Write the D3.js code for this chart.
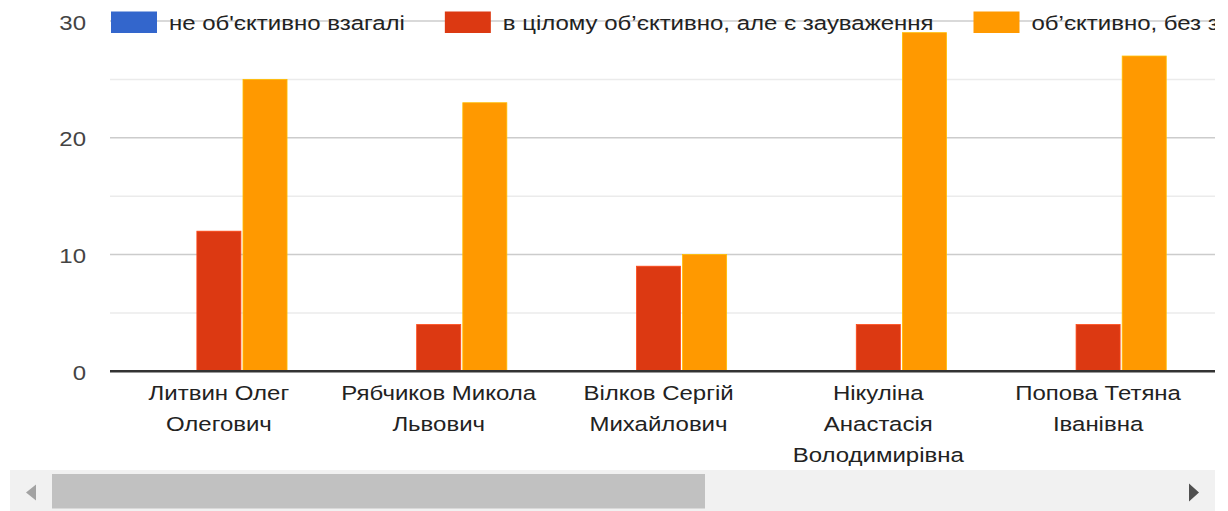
<!DOCTYPE html>
<html>
<head>
<meta charset="utf-8">
<script src="https://cdn.jsdelivr.net/npm/d3@7"></script>
<style>
  body { margin: 0; background: #fff; }
  svg { display: block; font-family: "Liberation Sans", Arial, sans-serif; }
</style>
</head>
<body>
<svg id="chart" width="1228" height="511"></svg>
<script>
// teachers (x categories), each label split into lines
var teachers = ['Литвин Олег Олегович', 'Рябчиков Микола Львович', 'Вілков Сергій Михайлович',
                'Нікуліна Анастасія Володимирівна', 'Попова Тетяна Іванівна'];
var teacherLines = [['Литвин Олег', 'Олегович'], ['Рябчиков Микола', 'Львович'], ['Вілков Сергій', 'Михайлович'],
                    ['Нікуліна', 'Анастасія', 'Володимирівна'], ['Попова Тетяна', 'Іванівна']];

// series
var seriesNames = ['не об\'єктивно взагалі', 'в цілому об’єктивно, але є зауваження', 'об’єктивно, без зауважень'];
var seriesColors = ['#3366cc', '#dc3912', '#ff9900'];
var notObjective = [0, 0, 0, 0, 0];
var mostlyObjective = [12, 4, 9, 4, 4];
var objective = [25, 23, 10, 29, 27];
var seriesValues = [notObjective, mostlyObjective, objective];

var yTicks = [0, 10, 20, 30];
var yMinor = [5, 15, 25];

var svg = d3.select('#chart');
var viewRight = 1215;   // visible part of the scrolled chart
var fs = 20.5, sx = 1.17;  // text is a bit wider in the original

svg.append('defs').append('clipPath').attr('id', 'view')
    .append('rect').attr('x', 0).attr('y', 0).attr('width', viewRight).attr('height', 470);

var g = svg.append('g').attr('clip-path', 'url(#view)');

var y = d3.scaleLinear().domain([0, 30]).range([371.3, 21]);
var x0 = d3.scaleBand().domain(teachers).range([109, 1208]).paddingInner(0.38).paddingOuter(0.19);
var x1 = d3.scaleBand().domain(d3.range(3)).range([0, x0.bandwidth()]).paddingInner(0.045);

function place(px, py) { return 'translate(' + px + ',' + py + ') scale(' + sx + ',1)'; }

// gridlines
g.selectAll('line.minor').data(yMinor).enter().append('line')
    .attr('x1', 110).attr('x2', viewRight)
    .attr('y1', function (d) { return y(d); }).attr('y2', function (d) { return y(d); })
    .attr('stroke', '#ebebeb').attr('stroke-width', 1.5);
g.selectAll('line.major').data(yTicks.slice(1)).enter().append('line')
    .attr('x1', 110).attr('x2', viewRight)
    .attr('y1', function (d) { return y(d); }).attr('y2', function (d) { return y(d); })
    .attr('stroke', '#cccccc').attr('stroke-width', 1.5);

// y tick labels
g.selectAll('text.ytick').data(yTicks).enter().append('text')
    .attr('transform', function (d) { return place(86, y(d) + 8.5); })
    .attr('text-anchor', 'end').attr('font-size', fs).attr('fill', '#444')
    .text(function (d) { return d; });

// bars
var groups = g.selectAll('g.grp').data(teachers).enter().append('g')
    .attr('transform', function (d) { return 'translate(' + x0(d) + ',0)'; });
groups.selectAll('rect').data(function (d, i) {
        return seriesValues.map(function (vals, s) { return { s: s, v: vals[i] }; });
    }).enter().append('rect')
    .filter(function (d) { return d.v > 0; })
    .attr('x', function (d) { return x1(d.s); })
    .attr('width', x1.bandwidth())
    .attr('y', function (d) { return y(d.v); })
    .attr('height', function (d) { return y(0) - y(d.v); })
    .attr('fill', function (d) { return seriesColors[d.s]; })
    .attr('stroke', function (d) { return d3.color(seriesColors[d.s]).brighter(0.6); })
    .attr('stroke-width', 0.8);

// baseline
g.append('line').attr('x1', 110).attr('x2', viewRight)
    .attr('y1', y(0)).attr('y2', y(0))
    .attr('stroke', '#333').attr('stroke-width', 2.5);

// x labels
g.selectAll('text.xlab').data(teachers).enter().append('text')
    .attr('text-anchor', 'middle').attr('font-size', fs).attr('fill', '#222')
    .attr('transform', function (d) { return place(x0(d) + x0.bandwidth() / 2, 400); })
    .each(function (d, i) {
        var t = d3.select(this);
        teacherLines[i].forEach(function (line, k) {
            t.append('tspan').attr('x', 0).attr('y', k * 30.8).text(line);
        });
    });

// legend
var lx = 111;
seriesNames.forEach(function (name, i) {
    g.append('rect').attr('x', lx).attr('y', 11.5).attr('width', 46).attr('height', 21.5)
        .attr('fill', seriesColors[i]);
    var t = g.append('text').attr('transform', place(lx + 58, 30))
        .attr('font-size', fs).attr('fill', '#222').text(name);
    lx = lx + 58 + t.node().getComputedTextLength() * sx + 40;
});

// horizontal scrollbar
svg.append('rect').attr('x', 10).attr('y', 470).attr('width', viewRight - 10).attr('height', 41).attr('fill', '#f1f1f1');
svg.append('rect').attr('x', 52).attr('y', 474).attr('width', 653).attr('height', 34.5).attr('fill', '#c1c1c1');
svg.append('path').attr('d', 'M26,492.5 L36,484.5 L36,500.5 Z').attr('fill', '#a3a3a3');
svg.append('path').attr('d', 'M1189,483.5 L1199,492.5 L1189,501.5 Z').attr('fill', '#505050');
</script>
</body>
</html>
